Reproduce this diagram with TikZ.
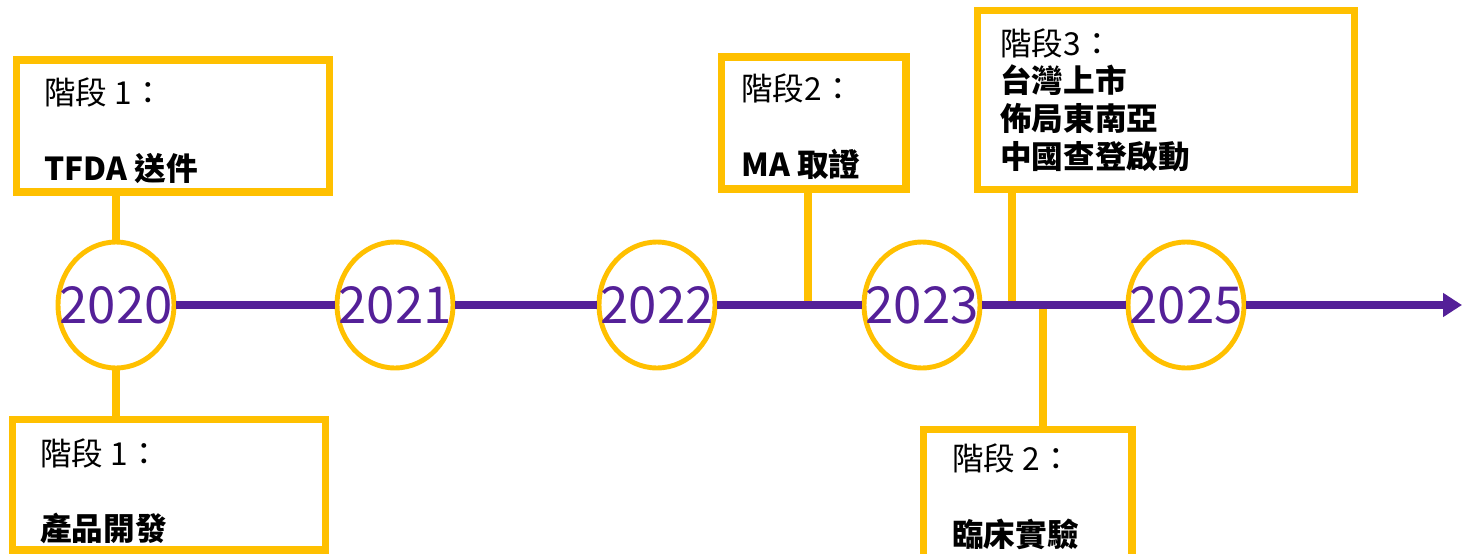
\documentclass[tikz,border=0pt]{standalone}
\usepackage{fontspec}
\setmainfont{Noto Sans CJK TC}
\usetikzlibrary{arrows.meta}
\usetikzlibrary{shapes.geometric}
\usetikzlibrary{positioning}
\definecolor{gold}{HTML}{FFC000}
\definecolor{tlpurple}{RGB}{84,32,152}
\tikzset{
  yearring/.style={ellipse, draw=gold, line width=2.8pt, fill=white,
    minimum width=2.32cm, minimum height=2.52cm, inner sep=0pt},
  yearlabel/.style={text=tlpurple, font=\fontsize{29}{31}\selectfont, inner sep=0pt},
  stagebox/.style={rectangle, draw=gold, line width=4pt, fill=white},
  stagetext/.style={anchor=west, align=left, inner sep=0pt,
    font=\fontsize{18}{21.5}\selectfont},
  stem/.style={draw=gold, line width=4pt},
  timeline/.style={draw=tlpurple, line width=4pt},
}

\begin{document}
\begin{tikzpicture}[x=0.02cm, y=-0.02cm]
    \useasboundingbox (0,0) rectangle (1464,554);
    % years
    \node[yearring, label={[yearlabel]center:2020}] (y2020) at (116,305) {};
    \node[yearring, label={[yearlabel]center:2021}] (y2021) at (395,305) {};
    \node[yearring, label={[yearlabel]center:2022}] (y2022) at (657,305) {};
    \node[yearring, label={[yearlabel]center:2023}] (y2023) at (922,305) {};
    \node[yearring, label={[yearlabel]center:2025}] (y2025) at (1186,305) {};
    \coordinate (tip) at (1462,305);
    \coordinate (ma) at (808,305);
    \coordinate (tw) at (1012,305);
    \coordinate (ct) at (1043,305);

    % stage boxes
    \node[stagebox, minimum width=6.28cm, minimum height=2.64cm] (tfda) at (173,126) {};
    \node[stagebox, minimum width=6.28cm, minimum height=2.62cm] (dev) at (169,484.5) {};
    \node[stagebox, minimum width=3.7cm, minimum height=2.64cm] (cert) at (813.5,123) {};
    \node[stagebox, minimum width=7.56cm, minimum height=3.6cm] (launch) at (1166,100) {};
    \node[stagebox, minimum width=4.18cm, minimum height=2.62cm] (trial) at (1027.5,494.5) {};

    \node[stagetext] (tfdatext) at (44,130.5) {階段 1：\\[21.5pt] \textbf{TFDA 送件}};
    \node[stagetext] (devtext) at (40,491.5) {階段 1：\\[21.5pt] \textbf{產品開發}};
    \node[stagetext] (certtext) at (741,126.5) {階段2：\\[21.5pt] \textbf{MA 取證}};
    \node[stagetext] (launchtext) at (1000,100) {階段3：\\ \textbf{台灣上市}\\ \textbf{佈局東南亞}\\ \textbf{中國查登啟動}};
    \node[stagetext] (trialtext) at (952,497) {階段 2：\\[21.5pt] \textbf{臨床實驗}};

    \draw[stem] (y2020.north) -- (y2020.north |- tfda.south);
    \draw[stem] (y2020.south) -- (y2020.south |- dev.north);
    \draw[stem] (ma) -- (ma |- cert.south);
    \draw[stem] (tw) -- (tw |- launch.south);
    \draw[stem] (ct) -- (ct |- trial.north);

    \draw[timeline] (y2020) -- (y2021);
    \draw[timeline] (y2021) -- (y2022);
    \draw[timeline] (y2022) -- (y2023);
    \draw[timeline] (y2023) -- (y2025);
    \draw[timeline, -{Triangle[length=0.38cm, width=0.46cm]}] (y2025) -- (tip);
\end{tikzpicture}
\end{document}
